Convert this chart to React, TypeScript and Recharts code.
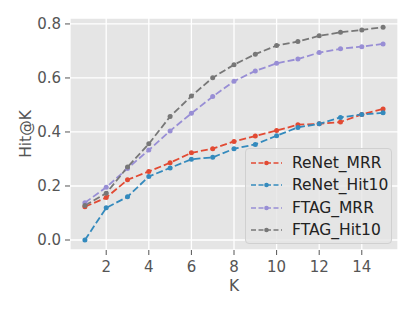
import React from "react";
import {
  CartesianGrid,
  Legend,
  Line,
  LineChart,
  XAxis,
  YAxis,
} from "recharts";

const K = [1, 2, 3, 4, 5, 6, 7, 8, 9, 10, 11, 12, 13, 14, 15];
const RENET_MRR = [0.123, 0.157, 0.223, 0.254, 0.286, 0.323, 0.338, 0.365, 0.385, 0.405, 0.427, 0.43, 0.437, 0.465, 0.485];
const RENET_HIT10 = [0.0, 0.119, 0.16, 0.235, 0.267, 0.299, 0.306, 0.338, 0.354, 0.386, 0.417, 0.43, 0.454, 0.465, 0.471];
const FTAG_MRR = [0.138, 0.195, 0.265, 0.333, 0.404, 0.469, 0.531, 0.588, 0.626, 0.654, 0.67, 0.694, 0.708, 0.716, 0.726];
const FTAG_HIT10 = [0.128, 0.173, 0.27, 0.356, 0.457, 0.533, 0.601, 0.649, 0.688, 0.72, 0.735, 0.756, 0.769, 0.778, 0.788];

const X_TICKS = [2, 4, 6, 8, 10, 12, 14];
const Y_TICKS = [0, 0.2, 0.4, 0.6, 0.8];

const SERIES = [
  { key: "renetMRR", name: "ReNet_MRR", color: "#E24A33" },
  { key: "renetHit10", name: "ReNet_Hit10", color: "#348ABD" },
  { key: "ftagMRR", name: "FTAG_MRR", color: "#988ED5" },
  { key: "ftagHit10", name: "FTAG_Hit10", color: "#777777" },
];

const FONT = "'DejaVu Sans', sans-serif";
const FS = 15;

const data = K.map((k, i) => ({
  k,
  renetMRR: RENET_MRR[i],
  renetHit10: RENET_HIT10[i],
  ftagMRR: FTAG_MRR[i],
  ftagHit10: FTAG_HIT10[i],
}));

const LegendBox = () => (
  <div
    style={{
      width: 147,
      height: 96,
      boxSizing: "border-box",
      background: "rgba(229,229,229,0.8)",
      border: "1px solid #d0d0d0",
      borderRadius: 4,
      padding: "3px 0 0 4px",
      fontFamily: FONT,
      fontSize: 15.5,
      color: "#222",
    }}
  >
    {SERIES.map((s) => (
      <div key={s.key} style={{ display: "flex", alignItems: "center", height: 22.3, whiteSpace: "nowrap" }}>
        <svg width={42} height={10} style={{ flexShrink: 0 }}>
          <line x1={1} y1={5} x2={32} y2={5} stroke={s.color} strokeWidth={1.6} strokeDasharray="5 2.5" />
          <circle cx={16.5} cy={5} r={2.3} fill={s.color} />
        </svg>
        <span>{s.name}</span>
      </div>
    ))}
  </div>
);

const tickStyle = { fill: "#555555", fontSize: FS, fontFamily: FONT };

const App: React.FC = () => (
  <div style={{ position: "absolute", left: 0, top: 0 }}>
    <LineChart
      width={417}
      height={312}
      data={data}
      margin={{ top: 18, right: 19, bottom: 0, left: 0 }}
    >
      <CartesianGrid fill="#E5E5E5" stroke="#ffffff" strokeWidth={1.3} />
      <XAxis
        dataKey="k"
        type="number"
        domain={[0.3, 15.7]}
        ticks={X_TICKS}
        height={62}
        axisLine={false}
        tickSize={5}
        tickMargin={6}
        tickLine={{ stroke: "#555555" }}
        tick={tickStyle}
        allowDataOverflow
        label={{
          content: ({ viewBox }: any) => (
            <text
              x={viewBox.x + viewBox.width / 2}
              y={viewBox.y + 41}
              textAnchor="middle"
              fill="#555555"
              fontSize={FS + 0.5}
              fontFamily={FONT}
            >
              K
            </text>
          ),
        }}
      />
      <YAxis
        type="number"
        domain={[-0.037, 0.822]}
        ticks={Y_TICKS}
        width={70}
        axisLine={false}
        tickSize={5}
        tickMargin={4}
        tickLine={{ stroke: "#555555" }}
        tick={tickStyle}
        tickFormatter={(v: number) => v.toFixed(1)}
        allowDataOverflow
        label={{
          content: ({ viewBox }: any) => {
            const x = viewBox.x + 31;
            const y = viewBox.y + viewBox.height / 2;
            return (
              <text
                x={x}
                y={y}
                transform={`rotate(-90 ${x} ${y})`}
                textAnchor="middle"
                fill="#555555"
                fontSize={FS + 0.5}
                fontFamily={FONT}
              >
                Hit@K
              </text>
            );
          },
        }}
      />
      <Legend
        layout="horizontal"
        verticalAlign="middle"
        align="center"
        content={() => <LegendBox />}
        wrapperStyle={{ left: 245, top: 148, width: 147, height: 96 }}
      />
      {SERIES.map((s) => (
        <Line
          key={s.key}
          dataKey={s.key}
          name={s.name}
          stroke={s.color}
          strokeWidth={1.8}
          strokeDasharray="7 3"
          dot={{ r: 2.5, fill: s.color, stroke: "none" }}
          activeDot={false}
          isAnimationActive={false}
        />
      ))}
    </LineChart>
  </div>
);

export default App;
